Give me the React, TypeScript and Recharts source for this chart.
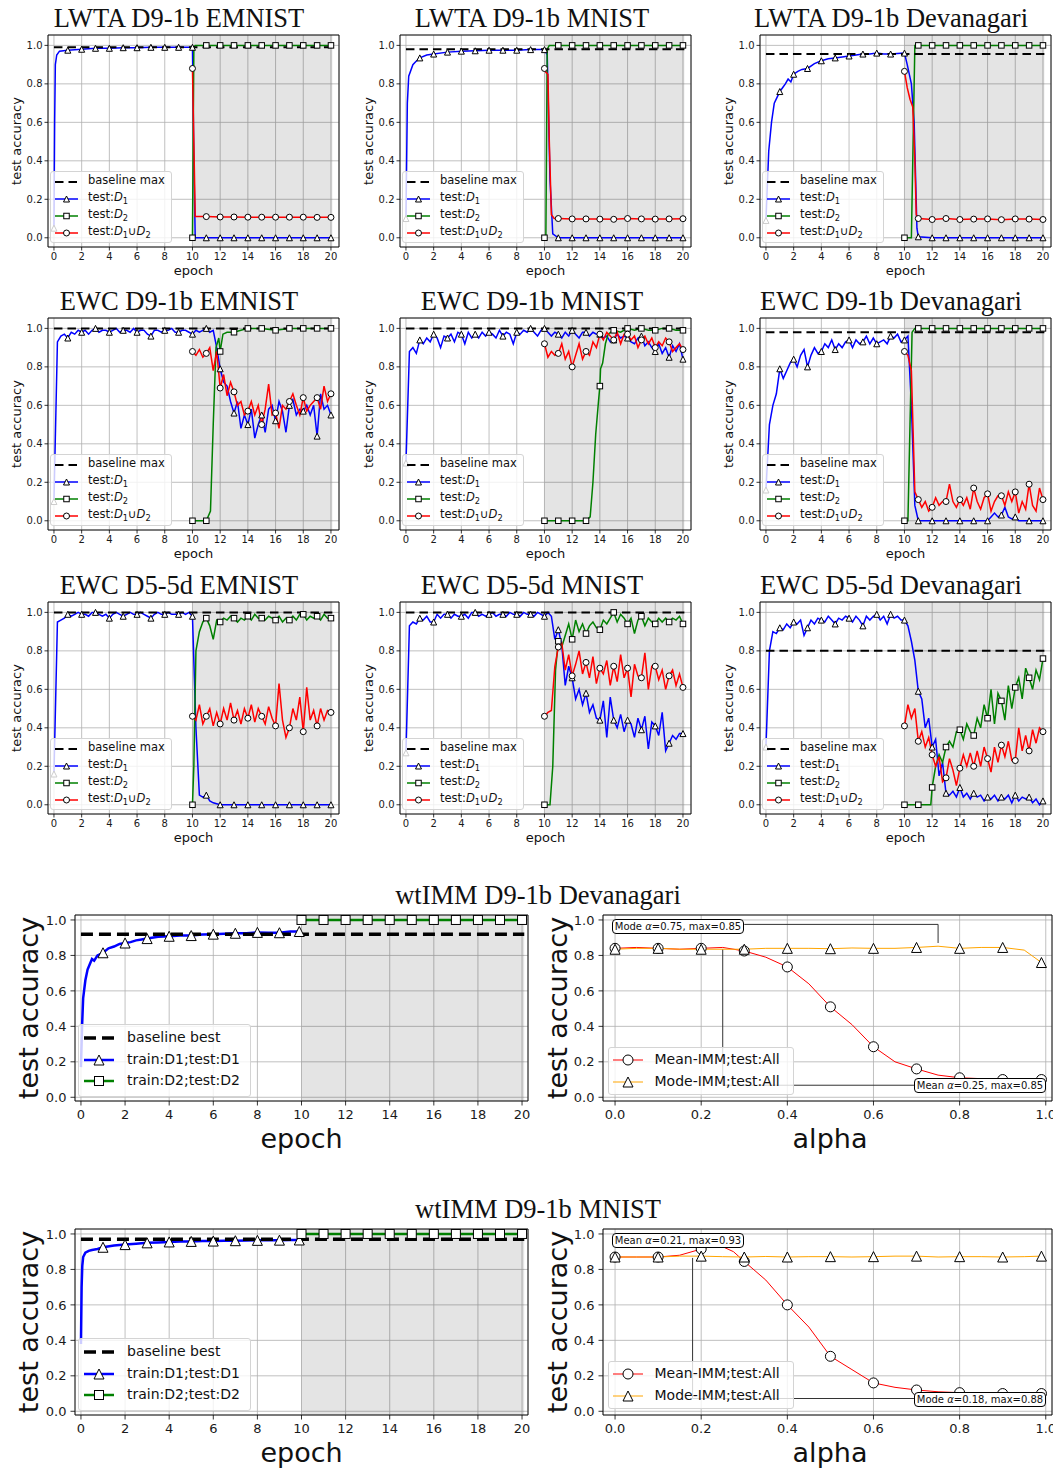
import type { JSX, ReactNode } from 'react';
import {
  CartesianGrid,
  Line,
  LineChart,
  ReferenceArea,
  ReferenceLine,
  XAxis,
  YAxis,
} from 'recharts';

type Pt = [number, number];
type MarkerKind = 'tri' | 'sq' | 'circ';

const seq = (x0: number, step: number, ys: number[]): Pt[] =>
  ys.map((y, i) => [Math.round((x0 + i * step) * 1000) / 1000, y]);

const SANS = '"DejaVu Sans", Verdana, sans-serif';
const SERIF = '"Liberation Serif", "Times New Roman", serif';
const BLUE = '#0000ff';
const GREEN = '#008000';
const RED = '#ff0000';
const ORANGE = '#ffa500';

// ticks and marker positions
const epochTicks = [0, 2, 4, 6, 8, 10, 12, 14, 16, 18, 20];
const alphaTicks = [0, 0.2, 0.4, 0.6, 0.8, 1.0];
const accTicks = [0, 0.2, 0.4, 0.6, 0.8, 1.0];
const epochMarks = [0, 1, 2, 3, 4, 5, 6, 7, 8, 9, 10, 11, 12, 13, 14, 15, 16, 17, 18, 19, 20];
const alphaMarks = [0, 0.1, 0.2, 0.3, 0.4, 0.5, 0.6, 0.7, 0.8, 0.9, 0.99];
const wtMarksD1 = [1, 2, 3, 4, 5, 6, 7, 8, 9, 9.9];

// ---------- LWTA D9-1b EMNIST
const lwtaEmnistBase = 0.99;
const lwtaEmnistD1: Pt[] = [
  [0, 0.05], [0.05, 0.6], [0.1, 0.9], [0.2, 0.95], [0.4, 0.97],
  ...seq(1, 1, [0.975, 0.98, 0.985, 0.985, 0.988, 0.988, 0.99, 0.99, 0.99, 0.99]),
  [10.1, 0.4], [10.2, 0],
  ...seq(11, 1, [0, 0, 0, 0, 0, 0, 0, 0, 0, 0]),
];
const lwtaEmnistD2: Pt[] = [
  [10, 0], [10.1, 0.99], [10.2, 1],
  ...seq(11, 1, [1, 1, 1, 1, 1, 1, 1, 1, 1, 1]),
];
const lwtaEmnistDU: Pt[] = [
  [10, 0.88], [10.1, 0.5], [10.2, 0.11],
  ...seq(11, 1, [0.11, 0.108, 0.108, 0.107, 0.107, 0.107, 0.107, 0.107, 0.106, 0.106]),
];

// ---------- LWTA D9-1b MNIST
const lwtaMnistBase = 0.98;
const lwtaMnistD1: Pt[] = [
  [0, 0.1], [0.1, 0.7], [0.2, 0.84], [0.5, 0.9], [0.7, 0.915], [1, 0.935], [1.5, 0.95],
  [2, 0.955], [3, 0.965], [4, 0.97], [5, 0.972], [6, 0.975], [7, 0.975], [8, 0.975],
  [9, 0.978], [10, 0.978], [10.2, 0.95], [10.4, 0.3], [10.6, 0.02],
  ...seq(11, 1, [0, 0, 0, 0, 0, 0, 0, 0, 0, 0]),
];
const lwtaMnistD2: Pt[] = [
  [10, 0], [10.1, 0], [10.2, 0.98], [10.35, 1],
  ...seq(11, 1, [1, 1, 1, 1, 1, 1, 1, 1, 1, 1]),
];
const lwtaMnistDU: Pt[] = [
  [10, 0.88], [10.1, 0.86], [10.25, 0.85], [10.35, 0.5], [10.5, 0.12], [10.7, 0.1],
  ...seq(11, 1, [0.1, 0.098, 0.098, 0.097, 0.096, 0.1, 0.098, 0.097, 0.098, 0.099]),
];

// ---------- LWTA D9-1b Devanagari
const lwtaDevBase = 0.955;
const lwtaDevD1: Pt[] = [
  [0, 0.09], [0.2, 0.45], [0.4, 0.6], [0.6, 0.7], [0.8, 0.73], [1, 0.76], [1.2, 0.78],
  [1.4, 0.8], [1.6, 0.825], [1.8, 0.81], [2, 0.85], [2.3, 0.865], [2.6, 0.875], [3, 0.88],
  [3.5, 0.905], [4, 0.92], [4.5, 0.93], [5, 0.935], [5.5, 0.94], [6, 0.945], [6.5, 0.95],
  [7, 0.955], [7.5, 0.955], [8, 0.96], [8.5, 0.955], [9, 0.955], [9.5, 0.958], [10, 0.96],
  [10.2, 0.9], [10.5, 0.8], [10.7, 0.6], [10.9, 0.05], [11, 0.005],
  ...seq(12, 1, [0, 0, 0, 0, 0, 0, 0, 0, 0]),
];
const lwtaDevD2: Pt[] = [
  [10, 0], [10.5, 0], [10.6, 0.4], [10.75, 1],
  ...seq(11, 1, [1, 1, 1, 1, 1, 1, 1, 1, 1, 1]),
];
const lwtaDevDU: Pt[] = [
  [10, 0.865], [10.2, 0.78], [10.4, 0.72], [10.6, 0.68], [10.75, 0.4], [10.85, 0.12],
  ...seq(11, 1, [0.1, 0.095, 0.1, 0.095, 0.097, 0.098, 0.094, 0.098, 0.097, 0.095]),
];

// ---------- EWC D9-1b EMNIST
const ewcEmnistBase = 1.0;
const ewcEmnistD1: Pt[] = seq(0, 0.25, [
  0.1, 0.93, 0.96, 0.97,
  0.95, 0.98, 0.97, 0.99,
  0.98, 0.99, 0.97, 0.99,
  1.0, 0.98, 0.99, 0.99,
  0.98, 0.99, 1.0, 0.98,
  0.99, 0.99, 0.98, 1.0,
  0.98, 0.99, 0.99, 0.97,
  0.96, 0.99, 0.99, 0.98,
  0.99, 0.99, 1.0, 0.98,
  0.98, 0.99, 0.99, 0.98,
  0.97, 0.99, 0.98, 0.99,
  1.0, 0.98, 0.99, 0.9,
  0.79, 0.72, 0.7, 0.62,
  0.56, 0.62, 0.48, 0.55,
  0.5, 0.58, 0.43, 0.5,
  0.55, 0.46, 0.58, 0.6,
  0.52, 0.62, 0.57, 0.46,
  0.6, 0.63, 0.55, 0.58,
  0.57, 0.6, 0.55, 0.6,
  0.44, 0.66, 0.58, 0.6,
  0.55,
]);
const ewcEmnistD2: Pt[] = [
  [10, 0], [11, 0], [11.3, 0.05], [11.5, 0.5], [11.7, 0.9], [11.9, 0.95], [12, 0.88],
  [12.2, 0.97], [12.5, 0.98], [13, 0.98], [13.5, 0.99],
  ...seq(14, 1, [1, 1, 0.99, 1, 1, 1, 1]),
];
const ewcEmnistDU: Pt[] = seq(10, 0.25, [
  0.88, 0.86, 0.89, 0.85,
  0.87, 0.9, 0.78, 0.88,
  0.69, 0.76, 0.65, 0.72,
  0.67, 0.6, 0.62, 0.55,
  0.57, 0.62, 0.55, 0.6,
  0.5, 0.58, 0.71, 0.55,
  0.56, 0.48, 0.6, 0.58,
  0.62, 0.66, 0.6, 0.55,
  0.64, 0.57, 0.6, 0.62,
  0.64, 0.58, 0.7, 0.62,
  0.66,
]);

// ---------- EWC D9-1b MNIST
const ewcMnistBase = 1.0;
const ewcMnistD1: Pt[] = seq(0, 0.25, [
  0.3, 0.88, 0.9, 0.87,
  0.94, 0.92, 0.95, 0.93,
  0.97, 0.95, 0.9, 0.96,
  0.95, 0.97, 0.93, 0.98,
  0.97, 0.92, 0.98, 0.95,
  0.97, 0.95, 0.98, 0.96,
  0.98, 0.97, 0.95, 0.99,
  0.96, 0.98, 0.97, 0.92,
  0.98, 0.97, 0.99, 0.98,
  1.0, 0.98, 0.96, 0.99,
  1.0, 0.98, 0.96, 0.98,
  0.97, 0.95, 0.98, 0.96,
  0.99, 0.97, 0.95, 0.98,
  0.98, 0.96, 0.98, 0.97,
  0.97, 0.95, 0.96, 0.93,
  0.94, 0.97, 0.95, 0.96,
  0.95, 0.93, 0.92, 0.95,
  0.96, 0.91, 0.93, 0.9,
  0.88, 0.92, 0.87, 0.9,
  0.85, 0.91, 0.88, 0.92,
  0.84,
]);
const ewcMnistD2: Pt[] = [
  [10, 0], [11, 0], [12, 0], [13, 0], [13.3, 0.02], [13.5, 0.2], [13.7, 0.45], [13.9, 0.62],
  [14, 0.7], [14.05, 0.79], [14.2, 0.82], [14.4, 0.92], [14.6, 0.97], [14.8, 0.98],
  [15, 0.99], [15.5, 0.98], [16, 1.0], [16.5, 0.99], [17, 1.0], [17.5, 0.99], [18, 0.99],
  [18.5, 1.0], [19, 1.0], [19.5, 0.99], [20, 0.99],
];
const ewcMnistDU: Pt[] = seq(10, 0.25, [
  0.92, 0.85, 0.88, 0.86,
  0.87, 0.92, 0.84, 0.88,
  0.8, 0.86, 0.92, 0.84,
  0.88, 0.86, 0.93, 0.9,
  0.97, 0.94, 0.98, 0.96,
  0.94, 0.98, 0.92, 0.97,
  0.97, 0.94, 0.96, 0.9,
  0.94, 0.96, 0.92, 0.95,
  0.9, 0.93, 0.91, 0.95,
  0.93, 0.88, 0.9, 0.92,
  0.89,
]);

// ---------- EWC D9-1b Devanagari
const ewcDevBase = 0.98;
const ewcDevD1: Pt[] = seq(0, 0.25, [
  0.16, 0.5, 0.6, 0.66,
  0.79, 0.74, 0.78, 0.82,
  0.84, 0.8, 0.86, 0.89,
  0.8, 0.86, 0.9, 0.87,
  0.88, 0.92, 0.9, 0.94,
  0.89, 0.92, 0.9, 0.93,
  0.94, 0.9, 0.94, 0.92,
  0.93, 0.96, 0.92, 0.95,
  0.92, 0.93, 0.94, 0.92,
  0.96, 0.95, 0.97, 0.93,
  0.94, 0.96, 0.6, 0.08,
  0, 0, 0, 0,
  0, 0, 0, 0,
  0, 0, 0, 0,
  0, 0, 0, 0,
  0, 0, 0, 0,
  0, 0.02, 0.04, 0.02,
  0.03, 0.07, 0.02, 0.01,
  0.02, 0, 0, 0,
  0, 0, 0, 0,
  0,
]);
const ewcDevD2: Pt[] = [
  [10, 0], [10.25, 0], [10.4, 0.5], [10.55, 0.98], [10.75, 1],
  ...seq(11, 1, [1, 1, 1, 1, 1, 1, 1, 1, 1, 1]),
];
const ewcDevDU: Pt[] = seq(10, 0.25, [
  0.88, 0.86, 0.78, 0.15,
  0.11, 0.07, 0.1, 0.05,
  0.07, 0.12, 0.08, 0.1,
  0.1, 0.19, 0.1, 0.07,
  0.11, 0.08, 0.12, 0.06,
  0.17, 0.1, 0.06, 0.12,
  0.14, 0.05, 0.1, 0.13,
  0.13, 0.08, 0.15, 0.1,
  0.15, 0.04, 0.1, 0.06,
  0.19, 0.08, 0.05, 0.17,
  0.11,
]);

// ---------- EWC D5-5d EMNIST
const ewc5EmnistBase = 1.0;
const ewc5EmnistD1: Pt[] = [
  ...seq(0, 0.25, [
    0.16, 0.95, 0.96, 0.97,
    0.99, 0.98, 0.99, 1.0,
    0.99, 0.99, 0.98, 1.0,
    1.0, 0.99, 0.98, 0.99,
    0.97, 0.99, 1.0, 0.99,
    0.98, 0.99, 1.0, 0.99,
    0.99, 1.0, 0.99, 0.98,
    0.97, 0.99, 1.0, 0.99,
    0.99, 1.0, 0.99, 0.99,
    0.99, 1.0, 0.99, 1.0,
    0.98, 0.4, 0.05, 0.04,
    0.05, 0.02, 0.01,
  ]),
  ...seq(12, 1, [0, 0, 0, 0, 0, 0, 0, 0, 0]),
];
const ewc5EmnistD2: Pt[] = [
  [10, 0], [10.1, 0.2], [10.25, 0.8], [10.5, 0.9], [10.75, 0.95],
  ...seq(11, 0.25, [
    0.97, 0.93, 0.86, 0.96,
    0.95, 0.97, 0.96, 0.98,
    0.97, 0.95, 0.97, 0.96,
    0.98, 0.96, 0.99, 0.97,
    0.97, 0.96, 0.98, 0.97,
    0.96, 0.98, 0.95, 0.97,
    0.96, 0.98, 0.96, 0.99,
    0.99, 0.96, 0.98, 0.97,
    0.98, 0.96, 0.99, 0.97,
    0.97,
  ]),
];
const ewc5EmnistDU: Pt[] = seq(10, 0.25, [
  0.46, 0.44, 0.52, 0.42,
  0.46, 0.5, 0.41, 0.48,
  0.42, 0.5, 0.44, 0.53,
  0.44, 0.49, 0.42, 0.5,
  0.45, 0.52, 0.43, 0.5,
  0.46, 0.42, 0.51, 0.45,
  0.41, 0.63, 0.44, 0.35,
  0.4, 0.5, 0.44, 0.56,
  0.38, 0.61, 0.44, 0.49,
  0.41, 0.5, 0.44, 0.49,
  0.48,
]);

// ---------- EWC D5-5d MNIST
const ewc5MnistBase = 1.0;
const ewc5MnistD1: Pt[] = seq(0, 0.25, [
  0.27, 0.93, 0.95, 0.94,
  0.97, 0.96, 0.98, 0.95,
  0.95, 0.99, 0.97, 0.99,
  0.99, 0.97, 0.99, 0.98,
  0.98, 0.99, 0.97, 1.0,
  1.0, 0.98, 0.99, 0.98,
  0.99, 1.0, 0.98, 0.99,
  0.99, 0.98, 1.0, 0.99,
  0.99, 0.98, 1.0, 0.99,
  0.99, 0.98, 1.0, 0.99,
  0.98, 1.0, 0.98, 0.86,
  0.91, 0.83, 0.62, 0.72,
  0.66, 0.55, 0.6, 0.52,
  0.58, 0.48, 0.52, 0.45,
  0.44, 0.54, 0.35, 0.56,
  0.44, 0.4, 0.47, 0.38,
  0.44, 0.42, 0.35, 0.45,
  0.39, 0.46, 0.29, 0.43,
  0.41, 0.36, 0.48, 0.28,
  0.32, 0.36, 0.34, 0.37,
  0.37,
]);
const ewc5MnistD2: Pt[] = [
  [10, 0], [10.4, 0], [10.6, 0.2], [10.8, 0.7],
  ...seq(11, 0.25, [
    0.85, 0.82, 0.88, 0.94,
    0.86, 0.96, 0.9, 0.94,
    0.89, 0.93, 0.95, 0.92,
    0.91, 0.96, 0.94, 0.97,
    1.0, 0.95, 0.99, 0.97,
    0.94, 0.97, 0.89, 0.96,
    0.98, 0.93, 0.97, 0.95,
    0.94, 0.97, 0.95, 0.97,
    0.95, 0.97, 0.96, 0.98,
    0.94,
  ]),
];
const ewc5MnistDU: Pt[] = seq(10, 0.25, [
  0.46, 0.48, 0.49, 0.72,
  0.82, 0.84, 0.7, 0.78,
  0.67, 0.73, 0.8, 0.68,
  0.74, 0.66, 0.77, 0.63,
  0.71, 0.68, 0.75, 0.62,
  0.72, 0.64, 0.78, 0.66,
  0.71, 0.56, 0.73, 0.67,
  0.66, 0.79, 0.6, 0.72,
  0.72, 0.65, 0.7, 0.6,
  0.67, 0.7, 0.62, 0.68,
  0.61,
]);

// ---------- EWC D5-5d Devanagari
const ewc5DevBase = 0.8;
const ewc5DevD1: Pt[] = seq(0, 0.25, [
  0.3, 0.8, 0.9, 0.89,
  0.92, 0.91, 0.94, 0.92,
  0.95, 0.94, 0.96, 0.88,
  0.92, 0.96, 0.94, 0.97,
  0.96, 0.95, 0.98, 0.96,
  0.94, 0.97, 0.96, 0.98,
  0.97, 0.95, 0.98, 0.96,
  0.93, 0.98, 0.96, 0.98,
  0.99, 0.96, 0.98, 0.94,
  0.99, 0.97, 0.98, 0.96,
  0.96, 0.93, 0.85, 0.75,
  0.59, 0.55, 0.4, 0.45,
  0.3, 0.34, 0.15, 0.22,
  0.06, 0.05, 0.07, 0.04,
  0.09, 0.04, 0.06, 0.03,
  0.06, 0.04, 0.05, 0.02,
  0.04, 0.03, 0.05, 0.02,
  0.04, 0.03, 0.05, 0.01,
  0.05, 0.02, 0.04, 0.03,
  0.04, 0.01, 0.03, 0.0,
  0.02,
]);
const ewc5DevD2: Pt[] = [
  [10, 0], [11, 0], [11.9, 0],
  ...seq(12, 0.25, [
    0.09, 0.2, 0.26, 0.22,
    0.3, 0.33, 0.3, 0.38,
    0.39, 0.34, 0.42, 0.38,
    0.36, 0.45, 0.4, 0.52,
    0.45, 0.6, 0.42, 0.58,
    0.54, 0.44, 0.62, 0.5,
    0.61, 0.66, 0.55, 0.71,
    0.66, 0.6, 0.7, 0.65,
    0.76,
  ]),
];
const ewc5DevDU: Pt[] = seq(10, 0.25, [
  0.41, 0.52, 0.45, 0.5,
  0.33, 0.38, 0.3, 0.35,
  0.26, 0.2, 0.25, 0.12,
  0.14, 0.24, 0.18, 0.1,
  0.19, 0.26, 0.2, 0.27,
  0.2, 0.28, 0.2, 0.3,
  0.24, 0.17, 0.3, 0.22,
  0.31, 0.25, 0.33, 0.23,
  0.23, 0.4, 0.28, 0.36,
  0.28, 0.39, 0.32, 0.4,
  0.38,
]);

// ---------- wtIMM D9-1b Devanagari
const wtDevBase = 0.92;
const wtDevD1: Pt[] = [
  [0, 0.17], [0.05, 0.4], [0.1, 0.56], [0.2, 0.66], [0.3, 0.72], [0.4, 0.75], [0.5, 0.78],
  [0.6, 0.77], [0.75, 0.8], [1, 0.815], [1.25, 0.84], [1.5, 0.85], [1.75, 0.865], [2, 0.87],
  [2.25, 0.875], [2.5, 0.885], [2.75, 0.89], [3, 0.895], [3.5, 0.905], [4, 0.908], [4.5, 0.912],
  [5, 0.912], [5.5, 0.918], [6, 0.92], [6.5, 0.922], [7, 0.925], [7.5, 0.925], [8, 0.93],
  [8.5, 0.928], [9, 0.928], [9.5, 0.935], [9.9, 0.935],
];
const wtDevD2: Pt[] = seq(10, 1, [1, 1, 1, 1, 1, 1, 1, 1, 1, 1, 1]);
const wtDevMean: Pt[] = [
  ...seq(0, 0.05, [
    0.84, 0.845, 0.84, 0.835, 0.84, 0.845, 0.825, 0.79, 0.735, 0.64,
    0.51, 0.41, 0.285, 0.2, 0.16, 0.125, 0.11, 0.105, 0.1, 0.1,
  ]),
  [0.99, 0.1],
];
const wtDevMode: Pt[] = [
  ...seq(0, 0.05, [
    0.835, 0.84, 0.84, 0.835, 0.835, 0.835, 0.835, 0.84, 0.84, 0.84,
    0.838, 0.842, 0.84, 0.84, 0.845, 0.852, 0.84, 0.845, 0.845, 0.83,
  ]),
  [0.99, 0.76],
];
const wtDevModeBest = { alpha: 0.75, acc: 0.85 };
const wtDevMeanBest = { alpha: 0.25, acc: 0.85 };

// ---------- wtIMM D9-1b MNIST
const wtMnistBase = 0.97;
const wtMnistD1: Pt[] = [
  [0, 0.38], [0.03, 0.7], [0.06, 0.82], [0.1, 0.87], [0.2, 0.895], [0.35, 0.905], [0.5, 0.91],
  [0.75, 0.915], [1, 0.925], [1.5, 0.935], [2, 0.94], [2.5, 0.945], [3, 0.95], [3.5, 0.952],
  [4, 0.955], [4.5, 0.957], [5, 0.958], [5.5, 0.96], [6, 0.96], [6.5, 0.962], [7, 0.962],
  [7.5, 0.963], [8, 0.964], [8.5, 0.965], [9, 0.965], [9.5, 0.966], [9.9, 0.966],
];
const wtMnistD2: Pt[] = seq(10, 1, [1, 1, 1, 1, 1, 1, 1, 1, 1, 1, 1]);
const wtMnistMean: Pt[] = [
  [0, 0.87], [0.05, 0.87], [0.1, 0.87], [0.15, 0.88], [0.2, 0.915], [0.225, 0.935],
  [0.25, 0.928], [0.275, 0.9], [0.3, 0.845], [0.35, 0.74], [0.4, 0.6], [0.45, 0.475],
  [0.5, 0.31], [0.55, 0.235], [0.6, 0.16], [0.65, 0.135], [0.7, 0.12], [0.75, 0.11],
  [0.8, 0.105], [0.85, 0.1], [0.9, 0.1], [0.95, 0.1], [0.99, 0.1],
];
const wtMnistMode: Pt[] = [
  ...seq(0, 0.05, [
    0.87, 0.87, 0.87, 0.875, 0.875, 0.872, 0.87, 0.873, 0.87, 0.872,
    0.872, 0.87, 0.872, 0.875, 0.875, 0.87, 0.872, 0.872, 0.87, 0.872,
  ]),
  [0.99, 0.875],
];
const wtMnistMeanBest = { alpha: 0.21, acc: 0.93 };
const wtMnistModeBest = { alpha: 0.18, acc: 0.88 };

// ---------- panels
const smallPanels = [
  { title: 'LWTA D9-1b EMNIST', base: lwtaEmnistBase, d1: lwtaEmnistD1, d2: lwtaEmnistD2, du: lwtaEmnistDU },
  { title: 'LWTA D9-1b MNIST', base: lwtaMnistBase, d1: lwtaMnistD1, d2: lwtaMnistD2, du: lwtaMnistDU },
  { title: 'LWTA D9-1b Devanagari', base: lwtaDevBase, d1: lwtaDevD1, d2: lwtaDevD2, du: lwtaDevDU },
  { title: 'EWC D9-1b EMNIST', base: ewcEmnistBase, d1: ewcEmnistD1, d2: ewcEmnistD2, du: ewcEmnistDU },
  { title: 'EWC D9-1b MNIST', base: ewcMnistBase, d1: ewcMnistD1, d2: ewcMnistD2, du: ewcMnistDU },
  { title: 'EWC D9-1b Devanagari', base: ewcDevBase, d1: ewcDevD1, d2: ewcDevD2, du: ewcDevDU },
  { title: 'EWC D5-5d EMNIST', base: ewc5EmnistBase, d1: ewc5EmnistD1, d2: ewc5EmnistD2, du: ewc5EmnistDU },
  { title: 'EWC D5-5d MNIST', base: ewc5MnistBase, d1: ewc5MnistD1, d2: ewc5MnistD2, du: ewc5MnistDU },
  { title: 'EWC D5-5d Devanagari', base: ewc5DevBase, d1: ewc5DevD1, d2: ewc5DevD2, du: ewc5DevDU },
];

// layout
const SMALL_COL_LEFT = [48, 400, 760];
const SMALL_ROW_TOP = [35, 318, 602];
const SMALL_TITLE_CX = [179, 532, 891];
const SMALL_W = 291;
const SMALL_H = 212;
const WIDE_ROW_TOP = [915, 1229];
const WIDE_H = 186;

function Marker({ kind, cx, cy, size }: { kind: MarkerKind; cx: number; cy: number; size: number }): JSX.Element {
  const h = size / 2;
  if (kind === 'tri') {
    return (
      <polygon
        points={`${cx},${cy - h} ${cx - h},${cy + h} ${cx + h},${cy + h}`}
        fill="#fff"
        stroke="#000"
        strokeWidth={1}
      />
    );
  }
  if (kind === 'sq') {
    return <rect x={cx - h} y={cy - h} width={size} height={size} fill="#fff" stroke="#000" strokeWidth={1} />;
  }
  return <circle cx={cx} cy={cy} r={h} fill="#fff" stroke="#000" strokeWidth={1} />;
}

type Series = { pts: Pt[]; color: string; width: number; marker: MarkerKind; size: number; marks: number[] };

type PanelProps = {
  left: number;
  top: number;
  width: number;
  height: number;
  xDomain: [number, number];
  yDomain: [number, number];
  xTicks: number[];
  xFmt: (v: number) => string;
  font: number;
  tickLen: number;
  tickPad: number;
  shade?: [number, number];
  base?: { y: number; x1: number; x2: number; width: number; dash: string };
  series: Series[];
  segs?: [Pt, Pt][];
};

function Panel(p: PanelProps): JSX.Element {
  const AXL = 50;
  const AXB = 34;
  const PT = 6;
  const PR = 16;
  const tick = { fontSize: p.font, fill: '#1a1a1a', fontFamily: SANS };
  return (
    <div style={{ position: 'absolute', left: p.left - AXL, top: p.top - PT }}>
      <LineChart
        width={AXL + p.width + PR}
        height={PT + p.height + AXB}
        margin={{ top: PT, right: PR, bottom: 0, left: 0 }}
      >
        <CartesianGrid stroke="#b0b0b0" strokeWidth={0.8} />
        <XAxis
          type="number"
          dataKey="x"
          domain={p.xDomain}
          ticks={p.xTicks}
          interval={0}
          allowDataOverflow
          height={AXB}
          tickSize={p.tickLen}
          tickMargin={p.tickPad}
          axisLine={false}
          tickLine={{ stroke: '#000', strokeWidth: 0.8 }}
          tick={tick}
          tickFormatter={p.xFmt}
        />
        <YAxis
          type="number"
          domain={p.yDomain}
          ticks={accTicks}
          interval={0}
          allowDataOverflow
          width={AXL}
          tickSize={p.tickLen}
          tickMargin={p.tickPad}
          axisLine={false}
          tickLine={{ stroke: '#000', strokeWidth: 0.8 }}
          tick={tick}
          tickFormatter={(v: number) => v.toFixed(1)}
        />
        {p.shade && (
          <ReferenceArea
            x1={p.shade[0]}
            x2={p.shade[1]}
            y1={p.yDomain[0]}
            y2={p.yDomain[1]}
            fill="#000"
            fillOpacity={0.105}
            stroke="none"
          />
        )}
        {(p.segs ?? []).map((s, i) => (
          <ReferenceLine
            key={`seg${i}`}
            segment={[{ x: s[0][0], y: s[0][1] }, { x: s[1][0], y: s[1][1] }]}
            stroke="#333"
            strokeWidth={1}
          />
        ))}
        {p.series.map((s, i) => (
          <Line
            key={i}
            data={s.pts.map(([x, y]) => ({ x, y }))}
            dataKey="y"
            type="linear"
            stroke={s.color}
            strokeWidth={s.width}
            isAnimationActive={false}
            activeDot={false}
            dot={(d: any) => {
              const x = d?.payload?.x;
              const on = typeof x === 'number' && s.marks.some((m) => Math.abs(m - x) < 1e-6);
              return on ? (
                <Marker key={`m${d.index}`} kind={s.marker} cx={d.cx} cy={d.cy} size={s.size} />
              ) : (
                <g key={`m${d.index}`} />
              );
            }}
          />
        ))}
        {p.base && (
          <ReferenceLine
            segment={[{ x: p.base.x1, y: p.base.y }, { x: p.base.x2, y: p.base.y }]}
            stroke="#000"
            strokeWidth={p.base.width}
            strokeDasharray={p.base.dash}
          />
        )}
        <ReferenceArea
          x1={p.xDomain[0]}
          x2={p.xDomain[1]}
          y1={p.yDomain[0]}
          y2={p.yDomain[1]}
          fill="none"
          stroke="#000"
          strokeWidth={0.9}
        />
      </LineChart>
    </div>
  );
}

function Txt({ cx, cy, size, rot, font, children }: { cx: number; cy: number; size: number; rot?: boolean; font?: string; children: ReactNode }): JSX.Element {
  return (
    <div
      style={{
        position: 'absolute',
        left: cx,
        top: cy,
        transform: `translate(-50%, -50%)${rot ? ' rotate(-90deg)' : ''}`,
        whiteSpace: 'nowrap',
        fontSize: size,
        lineHeight: 1,
        fontFamily: font ?? SANS,
        color: '#111',
      }}
    >
      {children}
    </div>
  );
}

function Sub({ children }: { children: ReactNode }): JSX.Element {
  return <span style={{ fontSize: '0.72em', position: 'relative', top: '0.3em' }}>{children}</span>;
}

type LegendRow = { color: string; lw: number; dash?: string; marker?: MarkerKind; size?: number; label: ReactNode };

function LegendBox({ left, top, width, height, rows, rowY, sampleX, sampleW, textX, font }: {
  left: number; top: number; width: number; height: number; rows: LegendRow[]; rowY: number[];
  sampleX: number; sampleW: number; textX: number; font: number;
}): JSX.Element {
  return (
    <div
      style={{
        position: 'absolute',
        left,
        top,
        width,
        height,
        boxSizing: 'border-box',
        border: '1px solid #d4d4d4',
        borderRadius: 3,
        background: 'rgba(255,255,255,0.8)',
        fontFamily: SANS,
        fontSize: font,
        color: '#111',
      }}
    >
      {rows.map((r, i) => (
        <div key={i}>
          <svg
            width={sampleW}
            height={14}
            style={{ position: 'absolute', left: sampleX, top: rowY[i] - 7, overflow: 'visible' }}
          >
            <line x1={0} y1={7} x2={sampleW} y2={7} stroke={r.color} strokeWidth={r.lw} strokeDasharray={r.dash} />
            {r.marker && <Marker kind={r.marker} cx={sampleW / 2} cy={7} size={r.size ?? 6} />}
          </svg>
          <div
            style={{
              position: 'absolute',
              left: textX,
              top: rowY[i] - font * 0.62,
              lineHeight: `${font * 1.2}px`,
              whiteSpace: 'nowrap',
            }}
          >
            {r.label}
          </div>
        </div>
      ))}
    </div>
  );
}

const smallLegendRows: LegendRow[] = [
  { color: '#000', lw: 2, dash: '8.5 5', label: 'baseline max' },
  { color: BLUE, lw: 1.5, marker: 'tri', size: 6, label: <>test:<i>D</i><Sub>1</Sub></> },
  { color: GREEN, lw: 1.5, marker: 'sq', size: 5.5, label: <>test:<i>D</i><Sub>2</Sub></> },
  { color: RED, lw: 1.5, marker: 'circ', size: 6, label: <>test:<i>D</i><Sub>1</Sub>∪<i>D</i><Sub>2</Sub></> },
];

const wideEpochLegendRows: LegendRow[] = [
  { color: '#000', lw: 3.5, dash: '12 6', label: 'baseline best' },
  { color: BLUE, lw: 2.5, marker: 'tri', size: 10, label: 'train:D1;test:D1' },
  { color: GREEN, lw: 2.5, marker: 'sq', size: 9, label: 'train:D2;test:D2' },
];

const wideAlphaLegendRows: LegendRow[] = [
  { color: RED, lw: 1, marker: 'circ', size: 10, label: 'Mean-IMM;test:All' },
  { color: ORANGE, lw: 1, marker: 'tri', size: 10, label: 'Mode-IMM;test:All' },
];

function AnnotBox({ left, top, kind, best }: { left: number; top: number; kind: string; best: { alpha: number; acc: number } }): JSX.Element {
  return (
    <div
      style={{
        position: 'absolute',
        left,
        top,
        width: 132,
        height: 15,
        boxSizing: 'border-box',
        border: '1px solid #000',
        borderRadius: 4,
        background: '#fff',
        fontFamily: SANS,
        fontSize: 10,
        lineHeight: '13px',
        textAlign: 'center',
        whiteSpace: 'nowrap',
        color: '#111',
      }}
    >
      {kind} <i>α</i>={best.alpha.toFixed(2)}, max={best.acc.toFixed(2)}
    </div>
  );
}

function SmallPanel({ idx }: { idx: number }): JSX.Element {
  const cfg = smallPanels[idx];
  const col = idx % 3;
  const row = Math.floor(idx / 3);
  const left = SMALL_COL_LEFT[col];
  const top = SMALL_ROW_TOP[row];
  return (
    <>
      <Txt cx={SMALL_TITLE_CX[col]} cy={top - 17} size={26.5} font={SERIF}>
        {cfg.title}
      </Txt>
      <Panel
        left={left}
        top={top}
        width={SMALL_W}
        height={SMALL_H}
        xDomain={[-0.43, 20.58]}
        yDomain={[-0.048, 1.054]}
        xTicks={epochTicks}
        xFmt={(v) => String(v)}
        font={10}
        tickLen={3.5}
        tickPad={2}
        shade={[10, 20.1]}
        base={{ y: cfg.base, x1: 0, x2: 20.1, width: 2, dash: '8.5 5' }}
        series={[
          { pts: cfg.d1, color: BLUE, width: 1.5, marker: 'tri', size: 6, marks: epochMarks },
          { pts: cfg.d2, color: GREEN, width: 1.5, marker: 'sq', size: 5.5, marks: epochMarks },
          { pts: cfg.du, color: RED, width: 1.5, marker: 'circ', size: 6, marks: epochMarks },
        ]}
      />
      <LegendBox
        left={left + 2}
        top={top + SMALL_H - 4.5 - 72}
        width={122}
        height={72}
        rows={smallLegendRows}
        rowY={[10, 27, 44, 61]}
        sampleX={4}
        sampleW={23}
        textX={37}
        font={11.5}
      />
      <Txt cx={left - 32} cy={top + 106} size={13} rot>
        test accuracy
      </Txt>
      <Txt cx={left + 145.5} cy={top + 235} size={13}>
        epoch
      </Txt>
    </>
  );
}

function WideRow({ row, title, base, d1, d2, mean, mode, topBest, topKind, botBest, botKind, segs }: {
  row: number; title: string; base: number; d1: Pt[]; d2: Pt[]; mean: Pt[]; mode: Pt[];
  topBest: { alpha: number; acc: number }; topKind: string;
  botBest: { alpha: number; acc: number }; botKind: string; segs: [Pt, Pt][];
}): JSX.Element {
  const top = WIDE_ROW_TOP[row];
  const lLeft = 75;
  const lW = 453;
  const rLeft = 603;
  const rW = 449;
  return (
    <>
      <Txt cx={538} cy={top - 20} size={26.5} font={SERIF}>
        {title}
      </Txt>
      <Panel
        left={lLeft}
        top={top}
        width={lW}
        height={WIDE_H}
        xDomain={[-0.27, 20.27]}
        yDomain={[-0.021, 1.028]}
        xTicks={epochTicks}
        xFmt={(v) => String(v)}
        font={13}
        tickLen={4.5}
        tickPad={4}
        shade={[10, 20.1]}
        base={{ y: base, x1: 0, x2: 20.1, width: 3.5, dash: '12 6' }}
        series={[
          { pts: d1, color: BLUE, width: 2.5, marker: 'tri', size: 10, marks: wtMarksD1 },
          { pts: d2, color: GREEN, width: 2.5, marker: 'sq', size: 9, marks: epochMarks },
        ]}
      />
      <LegendBox
        left={lLeft + 3}
        top={top + WIDE_H - 4 - 73}
        width={173}
        height={73}
        rows={wideEpochLegendRows}
        rowY={[13, 35, 56]}
        sampleX={5}
        sampleW={30}
        textX={48}
        font={14}
      />
      <Txt cx={lLeft - 47} cy={top + 93} size={27} rot>
        test accuracy
      </Txt>
      <Txt cx={lLeft + lW / 2} cy={top + 223} size={27}>
        epoch
      </Txt>

      <Panel
        left={rLeft}
        top={top}
        width={rW}
        height={WIDE_H}
        xDomain={[-0.028, 1.0145]}
        yDomain={[-0.021, 1.028]}
        xTicks={alphaTicks}
        xFmt={(v) => v.toFixed(1)}
        font={13}
        tickLen={4.5}
        tickPad={4}
        segs={segs}
        series={[
          { pts: mean, color: RED, width: 1, marker: 'circ', size: 10, marks: alphaMarks },
          { pts: mode, color: ORANGE, width: 1, marker: 'tri', size: 10, marks: alphaMarks },
        ]}
      />
      <LegendBox
        left={rLeft + 4.5}
        top={top + 131.5}
        width={186}
        height={48.5}
        rows={wideAlphaLegendRows}
        rowY={[12, 34]}
        sampleX={4.5}
        sampleW={30}
        textX={46}
        font={14}
      />
      <AnnotBox left={612} top={top + 4} kind={topKind} best={topBest} />
      <AnnotBox left={914} top={top + 162.5} kind={botKind} best={botBest} />
      <Txt cx={rLeft - 46} cy={top + 93} size={27} rot>
        test accuracy
      </Txt>
      <Txt cx={830} cy={top + 223} size={27}>
        alpha
      </Txt>
    </>
  );
}

export default function App(): JSX.Element {
  return (
    <div
      style={{
        position: 'absolute',
        left: 0,
        top: 0,
        width: 1053,
        height: 1468,
        overflow: 'hidden',
        background: '#fff',
        fontFamily: SANS,
      }}
    >
      {smallPanels.map((_, i) => (
        <SmallPanel key={i} idx={i} />
      ))}
      <WideRow
        row={0}
        title="wtIMM D9-1b Devanagari"
        base={wtDevBase}
        d1={wtDevD1}
        d2={wtDevD2}
        mean={wtDevMean}
        mode={wtDevMode}
        topBest={wtDevModeBest}
        topKind="Mode"
        botBest={wtDevMeanBest}
        botKind="Mean"
        segs={[
          [[0.3, 0.975], [wtDevModeBest.alpha, 0.975]],
          [[wtDevModeBest.alpha, 0.975], [wtDevModeBest.alpha, 0.87]],
          [[0.694, 0.068], [wtDevMeanBest.alpha, 0.068]],
          [[wtDevMeanBest.alpha, 0.068], [wtDevMeanBest.alpha, 0.835]],
        ]}
      />
      <WideRow
        row={1}
        title="wtIMM D9-1b MNIST"
        base={wtMnistBase}
        d1={wtMnistD1}
        d2={wtMnistD2}
        mean={wtMnistMean}
        mode={wtMnistMode}
        topBest={wtMnistMeanBest}
        topKind="Mean"
        botBest={wtMnistModeBest}
        botKind="Mode"
        segs={[
          [[0.694, 0.072], [wtMnistModeBest.alpha, 0.072]],
          [[wtMnistModeBest.alpha, 0.072], [wtMnistModeBest.alpha, 0.865]],
        ]}
      />
    </div>
  );
}
